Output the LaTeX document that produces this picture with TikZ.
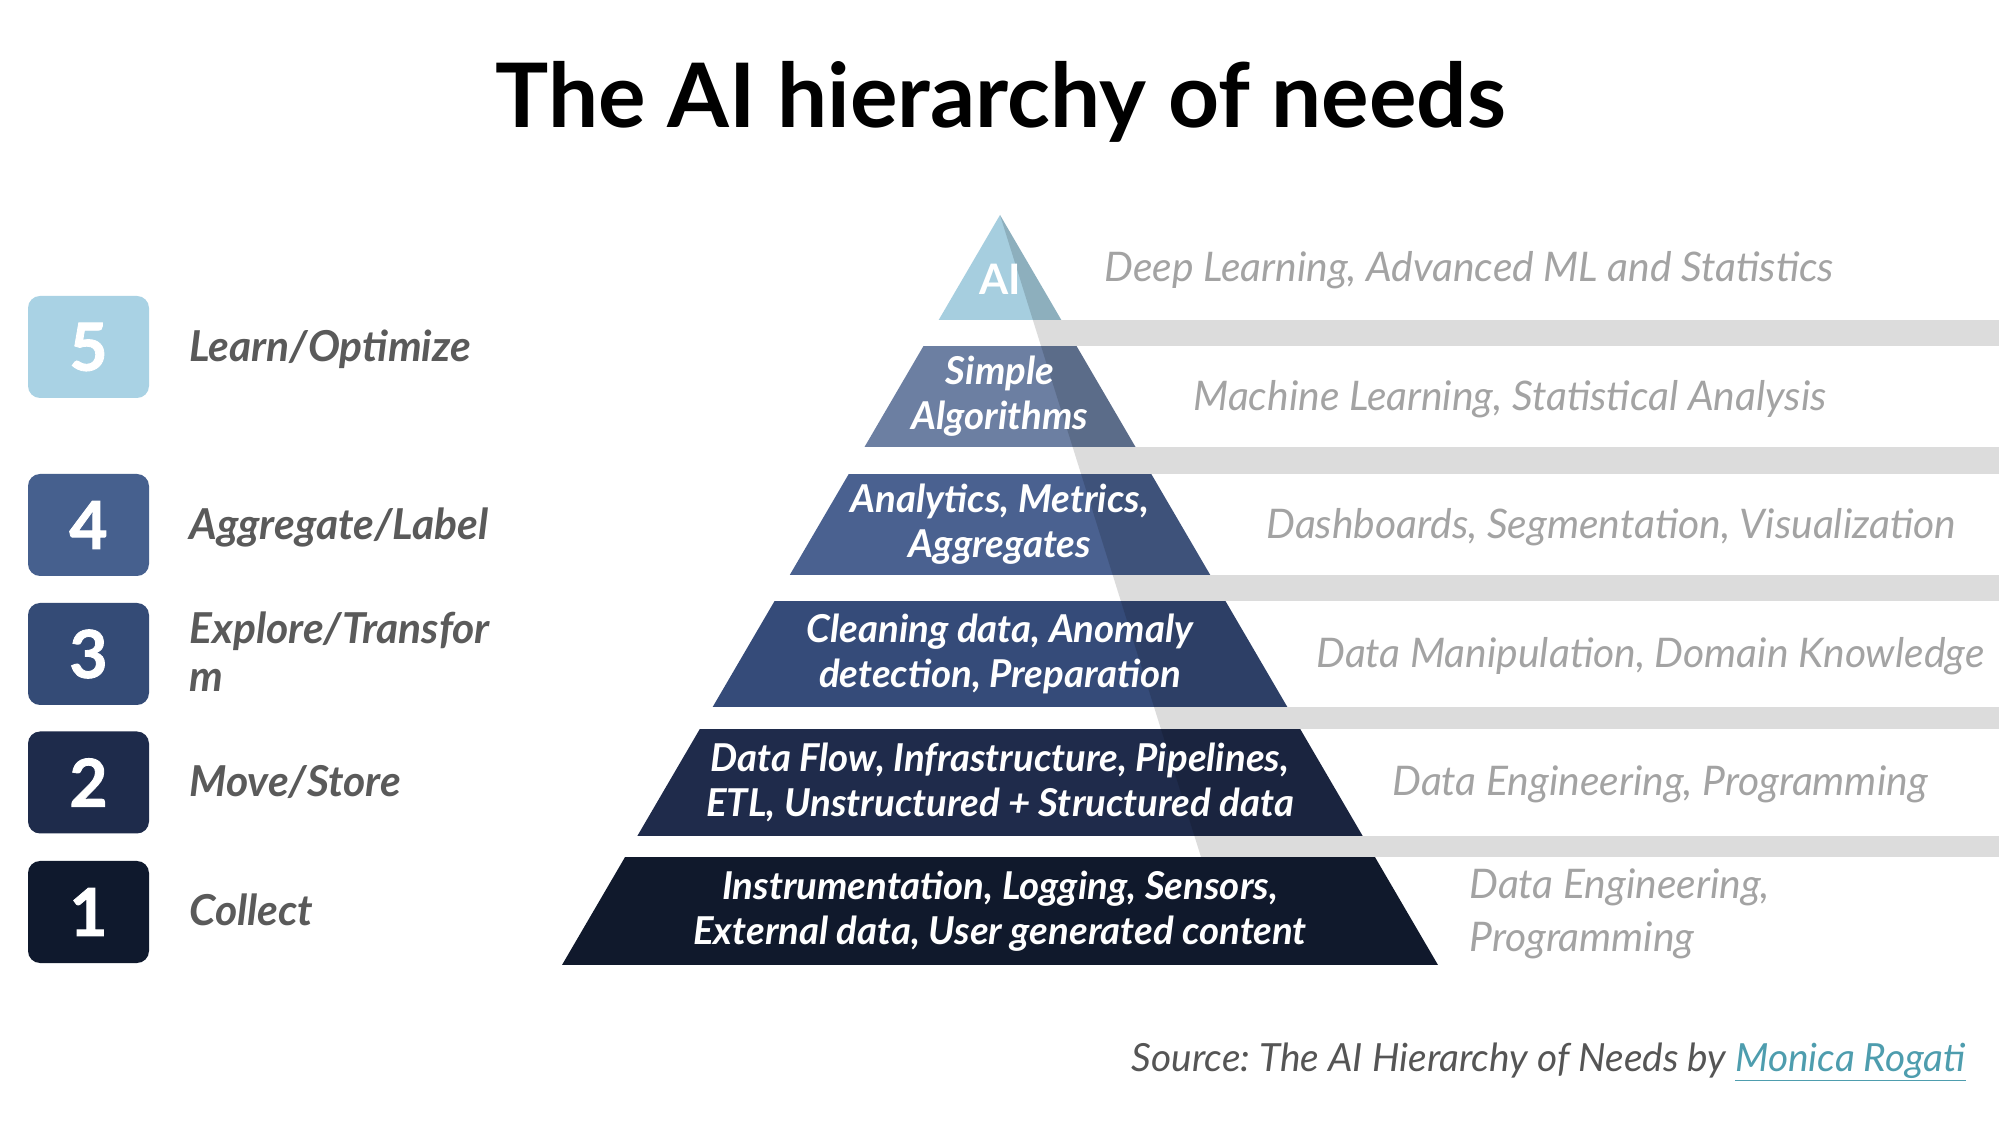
\documentclass[tikz,border=0pt]{standalone}
\usepackage{fontspec}
\setmainfont{Lato}
\newfontfamily\numfont{Lato}[BoldFeatures={FakeBold=1.3}]
\frenchspacing
\definecolor{tAI}{HTML}{A6CEDF}
\definecolor{tSA}{HTML}{6C7FA2}
\definecolor{tAN}{HTML}{4A6190}
\definecolor{tCL}{HTML}{354B79}
\definecolor{tDF}{HTML}{1F2B4B}
\definecolor{tIN}{HTML}{10192C}
\definecolor{bFive}{HTML}{A9D2E4}
\definecolor{bFour}{HTML}{46608E}
\definecolor{bThree}{HTML}{344B76}
\definecolor{bTwo}{HTML}{1E2B4B}
\definecolor{bOne}{HTML}{0F192D}
\definecolor{labgray}{HTML}{5A5A5A}
\definecolor{rgray}{HTML}{A3A3A3}
\definecolor{gapgray}{HTML}{DCDCDC}
\definecolor{srcgray}{HTML}{555555}
\definecolor{linkteal}{HTML}{4E9DAE}
\tikzset{
  tiertext/.style={text=white, font=\fontsize{19.2}{22.5}\selectfont\bfseries\itshape, align=center, inner sep=0pt},
  numbox/.style={rounded corners=6pt, minimum width=60.5pt, minimum height=51pt, text=white, font=\numfont\fontsize{33}{33}\selectfont\bfseries, inner sep=0pt},
  lefttext/.style={anchor=base west, text=labgray, font=\fontsize{21.3}{24}\selectfont\bfseries\itshape, inner sep=0pt},
  righttext/.style={anchor=base west, text=rgray, font=\fontsize{20.4}{26}\selectfont\itshape, inner sep=0pt},
}
\begin{document}
\begin{tikzpicture}[x=0.5pt,y=-0.5pt]
\fill[white] (0,0) rectangle (1999,1122);
\useasboundingbox (0,0) rectangle (1999,1122);

% title
\node[anchor=base, inner sep=0pt, font=\fontsize{44.5}{54}\selectfont\bfseries] (title) at (1001,127.5) {The AI hierarchy of needs};

% pyramid tiers
\begin{scope}
  \clip (1000,215) -- (562,965) -- (1438,965) -- cycle;
  \fill[tAI] (500,200) rectangle (1500,320);
  \fill[tSA] (500,346) rectangle (1500,447);
  \fill[tAN] (500,474) rectangle (1500,575);
  \fill[tCL] (500,601) rectangle (1500,707);
  \fill[tDF] (500,729) rectangle (1500,836);
  \fill[tIN] (500,857) rectangle (1500,965);
\end{scope}

% diagonal band and gap rows
\begin{scope}
  \clip (1000,215) -- (1201,857) -- (1999,857) -- (1999,200) -- (1000,200) -- cycle;
  \fill[gapgray] (800,320) rectangle (1999,346);
  \fill[gapgray] (800,447) rectangle (1999,474);
  \fill[gapgray] (800,575) rectangle (1999,601);
  \fill[gapgray] (800,707) rectangle (1999,729);
  \fill[gapgray] (800,836) rectangle (1999,857);
  \begin{scope}
    \clip (1000,215) -- (562,965) -- (1438,965) -- cycle;
    \fill[black,opacity=.15] (500,200) rectangle (1500,320);
    \fill[black,opacity=.15] (500,346) rectangle (1500,447);
    \fill[black,opacity=.15] (500,474) rectangle (1500,575);
    \fill[black,opacity=.15] (500,601) rectangle (1500,707);
    \fill[black,opacity=.15] (500,729) rectangle (1500,836);
  \end{scope}
\end{scope}

% tier texts
\node[text=white, inner sep=0pt, font=\fontsize{21}{24}\selectfont\bfseries] (tai) at (1000,279) {AI};
\node[tiertext] (tsa) at (1000,396.5) {Simple\\Algorithms};
\node[tiertext] (tan) at (1000,524.5) {Analytics, Metrics,\\Aggregates};
\node[tiertext] (tcl) at (1000,654) {Cleaning data, Anomaly\\detection, Preparation};
\node[tiertext] (tdf) at (1000,782.5) {Data Flow, Infrastructure, Pipelines,\\ETL, Unstructured + Structured data};
\node[tiertext] (tin) at (1000,911) {Instrumentation, Logging, Sensors,\\External data, User generated content};

% right texts
\node[righttext] (r6) at (1104,282) {Deep Learning, Advanced ML and Statistics};
\node[righttext] (r5) at (1193,410.5) {Machine Learning, Statistical Analysis};
\node[righttext] (r4) at (1266,539) {Dashboards, Segmentation, Visualization};
\node[righttext] (r3) at (1316,668) {Data Manipulation, Domain Knowledge};
\node[righttext] (r2) at (1392,796) {Data Engineering, Programming};
\node[righttext] (r1a) at (1469,899) {Data Engineering,};
\node[righttext] (r1b) at (1469,951) {Programming};

% number boxes
\node[numbox, fill=bFive] (n5) at (88.5,347) {5};
\node[numbox, fill=bFour] (n4) at (88.5,525) {4};
\node[numbox, fill=bThree] (n3) at (88.5,654) {3};
\node[numbox, fill=bTwo] (n2) at (88.5,782.5) {2};
\node[numbox, fill=bOne] (n1) at (88.5,912) {1};

% left labels
\node[lefttext] (l5) at (189,362) {Learn/Optimize};
\node[lefttext] (l4) at (189,540) {Aggregate/Label};
\node[lefttext] (l3a) at (189,644) {Explore/Transfor};
\node[lefttext] (l3b) at (189,692) {m};
\node[lefttext] (l2) at (189,797) {Move/Store};
\node[lefttext] (l1) at (189,926) {Collect};

% source
\node[anchor=base east, inner sep=0pt, font=\fontsize{19.4}{22}\selectfont\itshape] (src) at (1966,1071) {\textcolor{srcgray}{Source: The AI Hierarchy of Needs by }\textcolor{linkteal}{\underline{Monica Rogati}}};
\end{tikzpicture}
\end{document}
